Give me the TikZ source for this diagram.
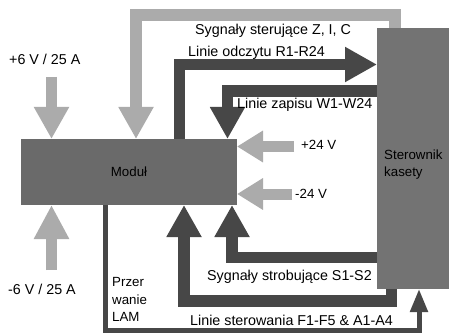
\documentclass[tikz,border=0pt]{standalone}
\usepackage{fontspec}
\setmainfont{Liberation Sans}
\usetikzlibrary{arrows.meta}
\definecolor{boxA}{HTML}{6A6A6A}
\definecolor{boxB}{HTML}{737373}
\definecolor{darkarr}{HTML}{474747}
\definecolor{lightarr}{HTML}{ABABAB}
\begin{document}
\begin{tikzpicture}[x=1pt,y=-1pt,
  box/.style={fill=#1, draw=none, inner sep=0pt, outer sep=0pt, font=\fontsize{13.3}{17}\selectfont},
  bigarrow/.style={line width=11.5pt, draw=#1, line join=miter, -{Triangle[width=33pt,length=32pt]}},
  pwrarrow/.style={line width=11pt, draw=lightarr, -{Triangle[width=30pt,length=26pt]}},
  thinarrow/.style={line width=5pt, draw=darkarr, line join=miter, -{Triangle[width=17pt,length=23pt]}},
  lab/.style={font=\fontsize{14.3}{17}\selectfont, inner sep=0pt, anchor=base west},
  slab/.style={font=\fontsize{13.3}{17.5}\selectfont, inner sep=0pt, anchor=base west}
]
\fill[white] (0,0) rectangle (449,334);
\useasboundingbox (0,0) rectangle (449,334);

% boxes
\node[box=boxA, minimum width=216pt, minimum height=66pt, anchor=north west] (mod) at (21,139) {Moduł};
\node[box=boxB, minimum width=72pt, minimum height=261pt, anchor=north west] (ster) at (377,28) {};
\node[slab, align=left, anchor=base west] (sterlab) at (384,176.5) {Sterownik\\kasety};

% free ends of supply arrows
\coordinate (p6) at (51.5,77);
\coordinate (m6) at (51.5,270);
\coordinate (p24) at (294,146.5);
\coordinate (m24) at (292,194);

% supply arrows
\draw[bigarrow=lightarr] (p6) -- (mod.north -| p6);
\draw[bigarrow=lightarr, -{Triangle[width=33pt,length=34pt]}] (m6) -- (mod.south -| m6);
\draw[pwrarrow] (p24) -- (mod.east |- p24);
\draw[pwrarrow] (m24) -- (mod.east |- m24);

% Sygnaly sterujace Z, I, C
\draw[bigarrow=lightarr] (ster.north -| 395,0) -- (395,15) -- (136,15) -- (mod.north -| 136,0);
% Linie odczytu
\draw[bigarrow=darkarr] (mod.north -| 179.5,0) -- (179.5,64.5) -- (ster.west |- 0,64.5);
% Linie zapisu
\draw[bigarrow=darkarr] (ster.west |- 0,91) -- (227.5,91) -- (mod.north -| 227.5,0);
% Sygnaly strobujace
\draw[bigarrow=darkarr] (ster.west |- 0,257.5) -- (232,257.5) -- (mod.south -| 232,0);
% Linie sterowania
\draw[bigarrow=darkarr] (ster.south -| 391.5,0) -- (391.5,301) -- (184,301) -- (mod.south -| 184,0);
% Przerwanie LAM
\draw[thinarrow] (mod.south -| 105.5,0) -- (105.5,330) -- (419,330) -- (ster.south -| 419,0);

% labels
\node[lab] (t6p) at (9,65) {+6 V / 25 A};
\node[lab] (t6m) at (8,294) {-6 V / 25 A};
\node[lab] (tzic) at (195,35) {Sygnały sterujące Z, I, C};
\node[lab] (tr) at (188,57) {Linie odczytu R1-R24};
\node[lab] (tw) at (237,108) {Linie zapisu W1-W24};
\node[slab] (t24p) at (301,149.5) {+24 V};
\node[slab] (t24m) at (295,198.5) {-24 V};
\node[lab] (ts) at (207,280) {Sygnały strobujące S1-S2};
\node[lab] (tf) at (190,325) {Linie sterowania F1-F5 \& A1-A4};
\node[slab, align=left] (tlam) at (112,321.5) {Przer\\wanie\\LAM};
\end{tikzpicture}
\end{document}
